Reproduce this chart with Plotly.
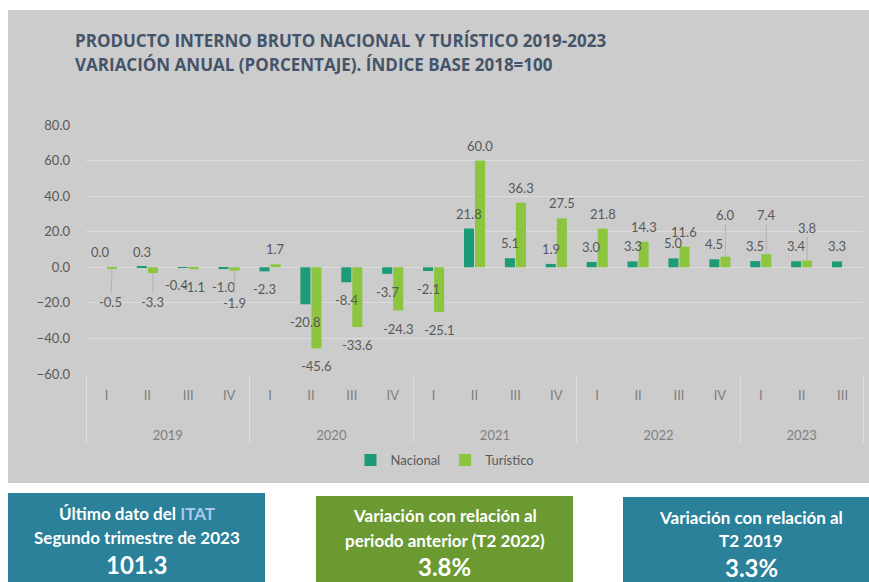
import plotly.graph_objects as go

# ---------------- data ----------------
years = ["2019"] * 4 + ["2020"] * 4 + ["2021"] * 4 + ["2022"] * 4 + ["2023"] * 3
quarters = ["I", "II", "III", "IV"] * 4 + ["I", "II", "III"]
nacional = [0.0, 0.3, -0.4, -1.0, -2.3, -20.8, -8.4, -3.7, -2.1, 21.8, 5.1, 1.9,
            3.0, 3.3, 5.0, 4.5, 3.5, 3.4, 3.3]
turistico = [-0.5, -3.3, -1.1, -1.9, 1.7, -45.6, -33.6, -24.3, -25.1, 60.0, 36.3, 27.5,
             21.8, 14.3, 11.6, 6.0, 7.4, 3.8, None]
series_names = ["Nacional", "Turístico"]
y_ticks = [-60, -40, -20, 0, 20, 40, 60, 80]

title_lines = ["PRODUCTO INTERNO BRUTO NACIONAL Y TURÍSTICO 2019-2023",
               "VARIACIÓN ANUAL (PORCENTAJE). ÍNDICE BASE 2018=100"]
box1_lines = ["Último dato del <span style='color:#a9c8ea'>ITAT</span>",
              "Segundo trimestre de 2023", "101.3"]
box2_lines = ["Variación con relación al", "periodo anterior (T2 2022)", "3.8%"]
box3_lines = ["Variación con relación al", "T2 2019", "3.3%"]

# ---------------- style / geometry ----------------
W, H = 869, 582
L, R, T, B = 86, 6, 125, 208
PW, PH = W - L - R, H - T - B

def fx(px):                   # pixel -> paper x
    return (px - L) / PW

def fy(py):                   # pixel -> paper y
    return (H - B - py) / PH

C_NAC = "#1d9a78"
C_TUR = "#8cc63f"
C_BG = "#cccccc"
C_TEXT = "#595959"
C_TITLE = "#44546a"
C_TEAL = "#2a8199"
C_GREEN = "#6b9a33"
LABEL_FONT = "Lato, 'Open Sans', sans-serif"

BAR_OFF = 0.135
# label nudges (screen px, +down) : (dx, dy, leader_line)
nudges = {
    (1, 0): (-1, 34, True),
    (1, 1): (0, 29, True),
    (1, 3): (0, 32, True),
    (0, 2): (-6, 17, False),
    (1, 2): (0, 18, False),
    (1, 15): (0, -42, True),
    (1, 16): (0, -39, True),
    (1, 17): (0, -33, True),
}

fig = go.Figure()
year_labels = ["<br><br>" + y for y in years]
for name, vals, col in [(series_names[0], nacional, C_NAC), (series_names[1], turistico, C_TUR)]:
    fig.add_trace(go.Bar(name=name, x=[year_labels, quarters], y=vals, marker_color=col,
                         marker_line_width=0))

annotations = []
for s, vals in enumerate([nacional, turistico]):
    off = -BAR_OFF if s == 0 else BAR_OFF
    for i, v in enumerate(vals):
        if v is None:
            continue
        txt = f"{v:.1f}"
        key = (s, i)
        if key in nudges and nudges[key][2]:
            dx, dy, _ = nudges[key]
            annotations.append(dict(x=i + off, y=v, xref="x", yref="y", text=txt,
                                    showarrow=True, ax=dx, ay=dy, arrowhead=0,
                                    arrowwidth=1, arrowcolor="#b3b3b3",
                                    font=dict(family=LABEL_FONT, size=13, color=C_TEXT)))
        else:
            dx, dy = 0, (-15 if v >= 0 else 18)
            if key in nudges:
                dx, dy, _ = nudges[key]
            annotations.append(dict(x=i + off, y=v, xref="x", yref="y", text=txt,
                                    showarrow=False, xshift=dx, yshift=-dy,
                                    xanchor="center", yanchor="middle",
                                    font=dict(family=LABEL_FONT, size=13, color=C_TEXT)))

# title
for k, line in enumerate(title_lines):
    annotations.append(dict(x=fx(73), y=fy(40 + 24 * k), xref="paper", yref="paper",
                            text=f"<b>{line}</b>", showarrow=False, xanchor="left",
                            yanchor="middle",
                            font=dict(family="'Open Sans', sans-serif", size=17,
                                      color=C_TITLE)))

shapes = [dict(type="rect", xref="paper", yref="paper", x0=fx(8), x1=fx(880),
               y0=fy(483), y1=fy(10), fillcolor=C_BG, line_width=0, layer="below")]

boxes = [((8, 265, 493), C_TEAL, box1_lines, (513, 537, 564)),
         ((316, 573, 496), C_GREEN, box2_lines, (515, 540, 566)),
         ((623, 880, 497), C_TEAL, box3_lines, (517, 540, 567))]
for (x0, x1, y0), col, lines, ys in boxes:
    shapes.append(dict(type="rect", xref="paper", yref="paper", x0=fx(x0), x1=fx(x1),
                       y0=fy(600), y1=fy(y0), fillcolor=col, line_width=0, layer="above"))
    cx = (x0 + min(x1, 879)) / 2
    for k, (line, yy) in enumerate(zip(lines, ys)):
        annotations.append(dict(x=fx(cx), y=fy(yy), xref="paper", yref="paper",
                                text=f"<b>{line}</b>", showarrow=False,
                                xanchor="center", yanchor="middle",
                                font=dict(family=LABEL_FONT, size=24 if k == 2 else 17,
                                          color="white")))

fig.update_layout(
    width=W, height=H,
    margin=dict(l=L, r=R, t=T, b=B, pad=0),
    paper_bgcolor="white", plot_bgcolor="rgba(0,0,0,0)",
    barmode="group", bargap=0.46, bargroupgap=0.09,
    showlegend=True,
    legend=dict(orientation="h", x=fx(445), xanchor="center", y=fy(460),
                yanchor="middle", bgcolor="rgba(0,0,0,0)",
                font=dict(family=LABEL_FONT, size=13, color=C_TEXT),
                itemwidth=30, tracegroupgap=0),
    annotations=annotations, shapes=shapes,
    font=dict(family=LABEL_FONT, color=C_TEXT),
)
fig.update_yaxes(range=[-60, 80], tickvals=y_ticks, tickformat=".1f",
                 gridcolor="#dcdcdc", gridwidth=1, zeroline=False, showline=False,
                 tickfont=dict(family=LABEL_FONT, size=13, color=C_TEXT),
                 ticklabelstandoff=15)
fig.update_xaxes(type="multicategory", showgrid=False, showline=False,
                 showdividers=True, dividercolor="#dcdcdc", dividerwidth=1,
                 tickfont=dict(family=LABEL_FONT, size=13, color="#7f7f7f"),
                 ticklabelstandoff=12)

fig.write_html("out.html", config={"displayModeBar": False},
               post_script="document.body.style.margin='0';")
